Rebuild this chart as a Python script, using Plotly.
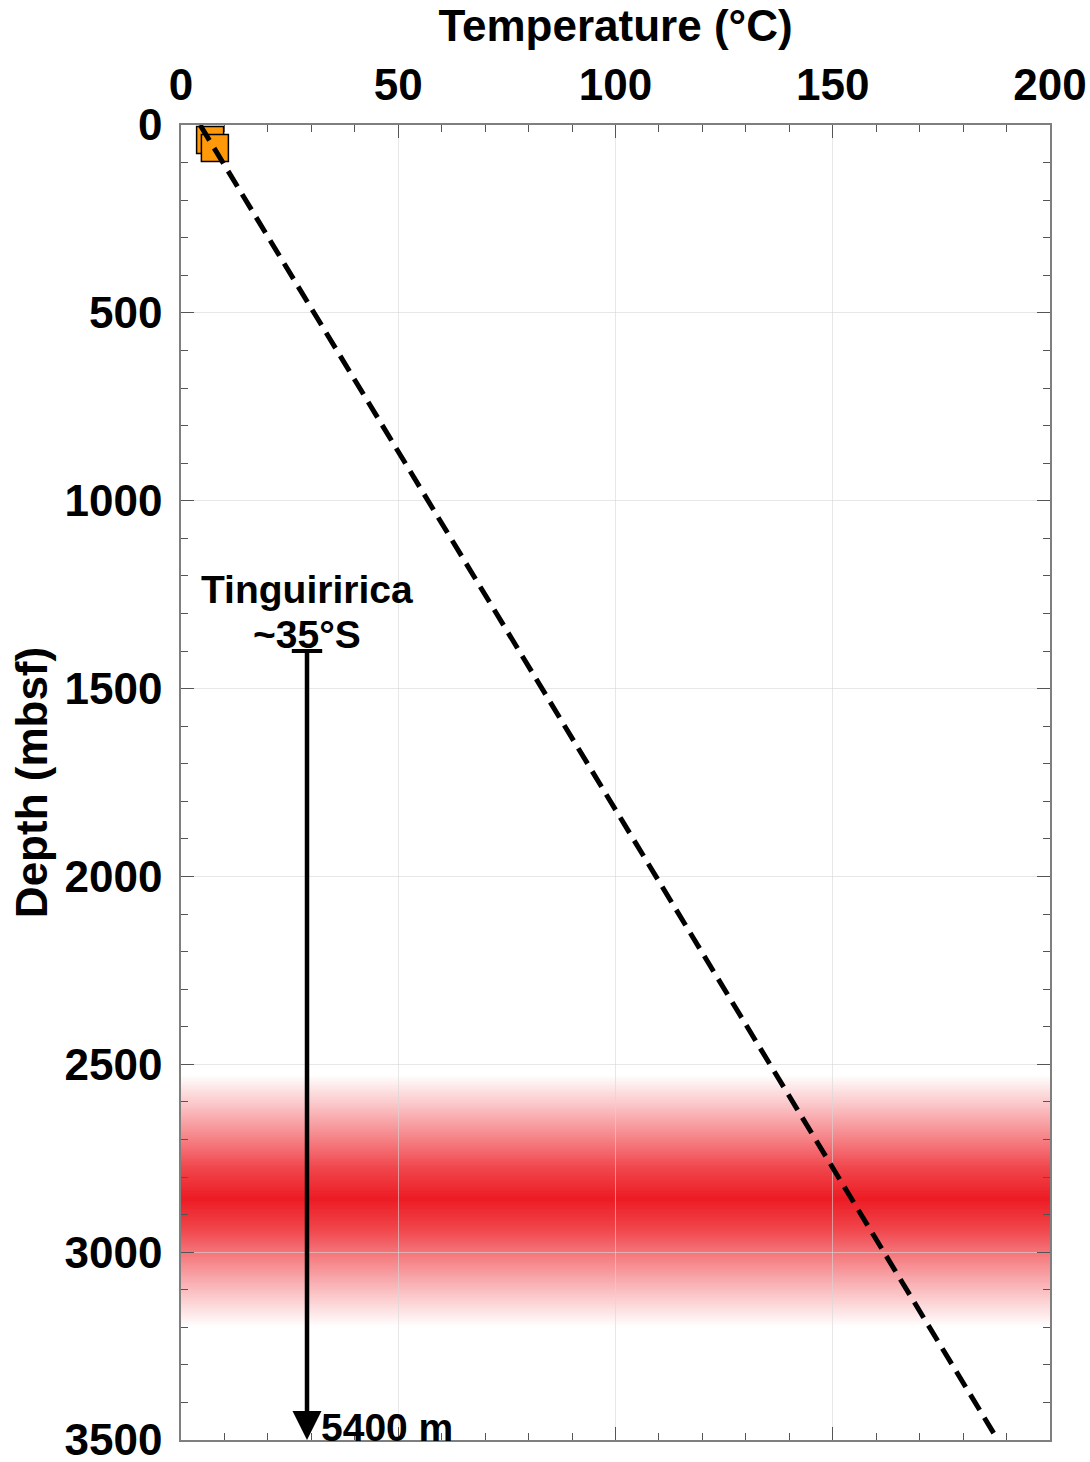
import numpy as np
import plotly.graph_objects as go

# ---- data ----
sample_temp = [6.7, 7.8]          # °C
sample_depth = [40, 61]           # mbsf
gradient_temp = [4.4, 188.0]      # dashed geotherm endpoints
gradient_depth = [0, 3500]
band_depth = [2530, 2600, 2700, 2780, 2860, 2940, 3000, 3100, 3200]
band_alpha = [0.0, 0.22, 0.55, 0.82, 1.0, 0.82, 0.62, 0.3, 0.0]
site_temp = 29
site_top = 1400
site_bottom = 3500
site_name = "Tinguiririca"
site_lat = "~35°S"
site_depth_label = "5400 m"
x_ticks = [0, 50, 100, 150, 200]
y_ticks = [0, 500, 1000, 1500, 2000, 2500, 3000, 3500]

FONT = "Liberation Sans"
RED = (237, 28, 36)

fig = go.Figure()

# red gradient band: opaque blended strips (slightly overlapping) below gridlines
edges = np.arange(band_depth[0], band_depth[-1] + 1, 5)
for d0, d1 in zip(edges[:-1], edges[1:]):
    a = float(np.interp((d0 + d1) / 2, band_depth, band_alpha))
    c = [round(255 * (1 - a) + ch * a) for ch in RED]
    fig.add_shape(type="rect", xref="x", yref="y", x0=0, x1=200, y0=d0 - 2, y1=d1 + 2,
                  fillcolor=f"rgb({c[0]},{c[1]},{c[2]})",
                  line=dict(width=0), layer="below")

# sample squares
fig.add_trace(go.Scatter(x=sample_temp, y=sample_depth, mode="markers",
                         marker=dict(symbol="square", size=27, color="#ff990a",
                                     line=dict(color="black", width=1.5)),
                         cliponaxis=False, showlegend=False))
# dashed geotherm
fig.add_trace(go.Scatter(x=gradient_temp, y=gradient_depth, mode="lines",
                         line=dict(color="black", width=5, dash="18px,9px"),
                         showlegend=False))
# site arrow: shaft
fig.add_trace(go.Scatter(x=[site_temp, site_temp], y=[site_top, site_bottom - 40],
                         mode="lines", line=dict(color="black", width=4.5),
                         showlegend=False))
# cap
fig.add_trace(go.Scatter(x=[site_temp - 3.5, site_temp + 3.5], y=[site_top, site_top],
                         mode="lines", line=dict(color="black", width=4),
                         showlegend=False, cliponaxis=False))
# arrow head (tip at marker position)
fig.add_trace(go.Scatter(x=[site_temp], y=[site_bottom], mode="markers",
                         marker=dict(symbol="arrow-down", size=29, color="black",
                                     line=dict(width=0)),
                         showlegend=False, cliponaxis=False))

fig.add_annotation(x=site_temp, y=site_top, xref="x", yref="y", text=f"<b>{site_lat}</b>",
                   showarrow=False, yanchor="bottom", xanchor="center", yshift=-7,
                   font=dict(family=FONT, size=39, color="black"))
fig.add_annotation(x=site_temp, y=site_top, xref="x", yref="y", text=f"<b>{site_name}</b>",
                   showarrow=False, yanchor="bottom", xanchor="center", yshift=38,
                   font=dict(family=FONT, size=39, color="black"))
fig.add_annotation(x=site_temp, y=site_bottom, xref="x", yref="y", text=f"<b>{site_depth_label}</b>",
                   showarrow=False, yanchor="bottom", xanchor="left", xshift=12, yshift=-11,
                   font=dict(family=FONT, size=39, color="black"))

axis_common = dict(
    showline=True, linecolor="#7f7f7f", linewidth=1.5, mirror="ticks",
    ticks="inside", ticklen=13, tickwidth=1.2, tickcolor="#555555",
    showgrid=True, gridcolor="rgba(215,215,215,0.6)", gridwidth=1,
    zeroline=False, ticklabeloverflow="allow",
    tickfont=dict(family=FONT, size=44, color="black"),
)

fig.update_xaxes(range=[0, 200], side="top", tickmode="array", tickvals=x_ticks,
                 ticktext=[f"<b>{v}</b>" for v in x_ticks],
                 minor=dict(ticks="inside", dtick=10, ticklen=7, tickcolor="#555555", showgrid=False),
                 title=dict(text="<b>Temperature (°C)</b>", font=dict(family=FONT, size=44, color="black"),
                            standoff=4),
                 ticklabelstandoff=6,
                 **axis_common)
fig.update_yaxes(range=[3500, 0], tickmode="array", tickvals=y_ticks,
                 ticktext=[f"<b>{v}</b>" for v in y_ticks],
                 minor=dict(ticks="inside", dtick=100, ticklen=7, tickcolor="#555555", showgrid=False),
                 title=dict(text="<b>Depth (mbsf)</b>", font=dict(family=FONT, size=44, color="black"),
                            standoff=3),
                 ticklabelstandoff=8,
                 **axis_common)

fig.update_layout(
    width=1090, height=1462,
    margin=dict(l=181, r=40, t=125, b=22, autoexpand=False),
    plot_bgcolor="white", paper_bgcolor="white",
    font=dict(family=FONT, color="black"),
    showlegend=False,
)

fig.write_html("out.html")
